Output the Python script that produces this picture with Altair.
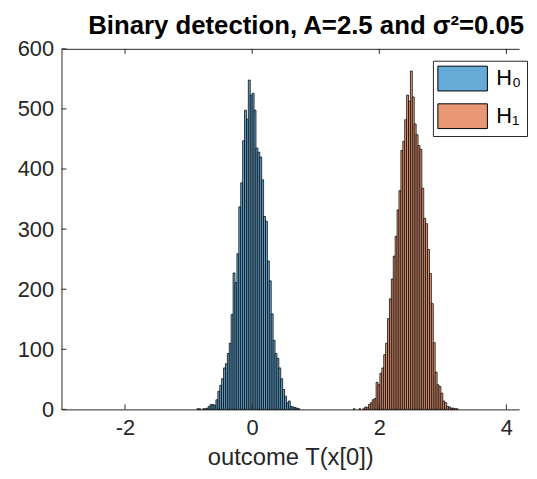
import altair as alt
import pandas as pd

# ---- data (bin width 0.03) ----
bin_width = 0.03
hyp_labels = ["H\u2080", "H\u2081"]

h0_start = -0.99
h0_counts = [0, 0, 0, 0, 1, 1, 0, 1, 1, 2,
             5, 8, 8, 7, 16, 30, 40, 51, 69, 76,
             93, 110, 158, 227, 211, 259, 337, 377, 447, 498,
             483, 548, 523, 526, 498, 435, 428, 420, 382, 321,
             313, 247, 214, 159, 115, 93, 85, 69, 51, 33,
             22, 11, 14, 5, 4, 3, 2, 1]

h1_start = 1.50
h1_counts = [0, 0, 0, 1, 0, 0, 1, 0, 1, 4,
             3, 8, 11, 16, 18, 45, 41, 60, 69, 91,
             110, 151, 184, 217, 255, 288, 332, 364, 431, 446,
             482, 523, 513, 563, 520, 475, 457, 439, 433, 368,
             318, 309, 266, 226, 176, 111, 62, 41, 38, 27,
             14, 11, 5, 4, 2, 2, 1, 1]

x_ticks = [-2, 0, 2, 4]
y_ticks = [0, 100, 200, 300, 400, 500, 600]
x_domain = [-3, 4.2]
y_domain = [0, 600]

rows = []
for lab, start, counts in [(hyp_labels[0], h0_start, h0_counts),
                           (hyp_labels[1], h1_start, h1_counts)]:
    for i, c in enumerate(counts):
        if c <= 0:
            continue
        a = round(start + i * bin_width, 4)
        rows.append({"hyp": lab, "x0": a, "x1": round(a + bin_width, 4), "count": c})
df = pd.DataFrame(rows)
xt = pd.DataFrame({"v": x_ticks})
yt = pd.DataFrame({"v": y_ticks})

W, H = 462, 364
FONT = "Liberation Sans"
AX = "#262626"

xscale = alt.Scale(domain=x_domain, nice=False, zero=False)
yscale = alt.Scale(domain=y_domain, nice=False)

x_axis = alt.Axis(values=x_ticks, title="outcome T(x[0])", orient="bottom",
                  labelExpr="replace(datum.label, '\u2212', '-')")
y_axis = alt.Axis(values=y_ticks, title=None, orient="left")

bars = alt.Chart(df).mark_rect(stroke="black", strokeWidth=0.75).encode(
    x=alt.X("x0:Q", scale=xscale, axis=x_axis),
    x2="x1:Q",
    y=alt.Y("count:Q", scale=yscale, axis=y_axis),
    y2=alt.datum(0),
    color=alt.Color("hyp:N",
                    scale=alt.Scale(domain=hyp_labels, range=["#66aad7", "#e89875"]),
                    legend=alt.Legend(title=None, orient="none", legendX=375, legendY=12,
                                      symbolType="M-2,-1H2V1H-2Z", symbolSize=625,
                                      symbolStrokeColor="black", symbolStrokeWidth=1,
                                      symbolOffset=12, labelOffset=21,
                                      labelFont=FONT, labelFontSize=22, labelColor="black",
                                      padding=5, rowPadding=8,
                                      strokeColor=AX, fillColor="white")),
)

top_axis = alt.Chart(xt).mark_rule(opacity=0).encode(
    x=alt.X("v:Q", scale=xscale,
            axis=alt.Axis(orient="top", labels=False, ticks=False, title=None, domain=True)),
)

xticks_bottom = alt.Chart(xt).mark_rule(color=AX, strokeWidth=1).encode(
    x=alt.X("v:Q", scale=xscale, axis=None),
    y=alt.value(H), y2=alt.value(H - 5),
)
xticks_top = alt.Chart(xt).mark_rule(color=AX, strokeWidth=1).encode(
    x=alt.X("v:Q", scale=xscale, axis=None),
    y=alt.value(0), y2=alt.value(5),
)
yticks_left = alt.Chart(yt).mark_rule(color=AX, strokeWidth=1).encode(
    y=alt.Y("v:Q", scale=yscale, axis=y_axis),
    x=alt.value(0), x2=alt.value(5),
)

chart = alt.layer(bars, top_axis, xticks_bottom, xticks_top, yticks_left).properties(
    width=W, height=H,
    title=alt.Title("Binary detection, A=2.5 and \u03c3\u00b2=0.05", font=FONT, fontSize=26,
                    fontWeight="bold", color="black", anchor="middle", dx=16, dy=10, offset=9),
    padding={"left": 54, "top": 39, "right": 10, "bottom": 63},
    autosize=alt.AutoSizeParams(type="none"),
).configure_view(strokeWidth=0).configure_axis(
    domainColor=AX, domainWidth=1, labelColor=AX, labelFont=FONT, labelFontSize=22,
    titleFont=FONT, titleFontSize=24, titleFontWeight="normal", titleColor=AX,
    ticks=False, grid=False, labelPadding=8, titlePadding=8,
)

chart.save("out.html", embed_options={"renderer": "svg", "actions": False})
